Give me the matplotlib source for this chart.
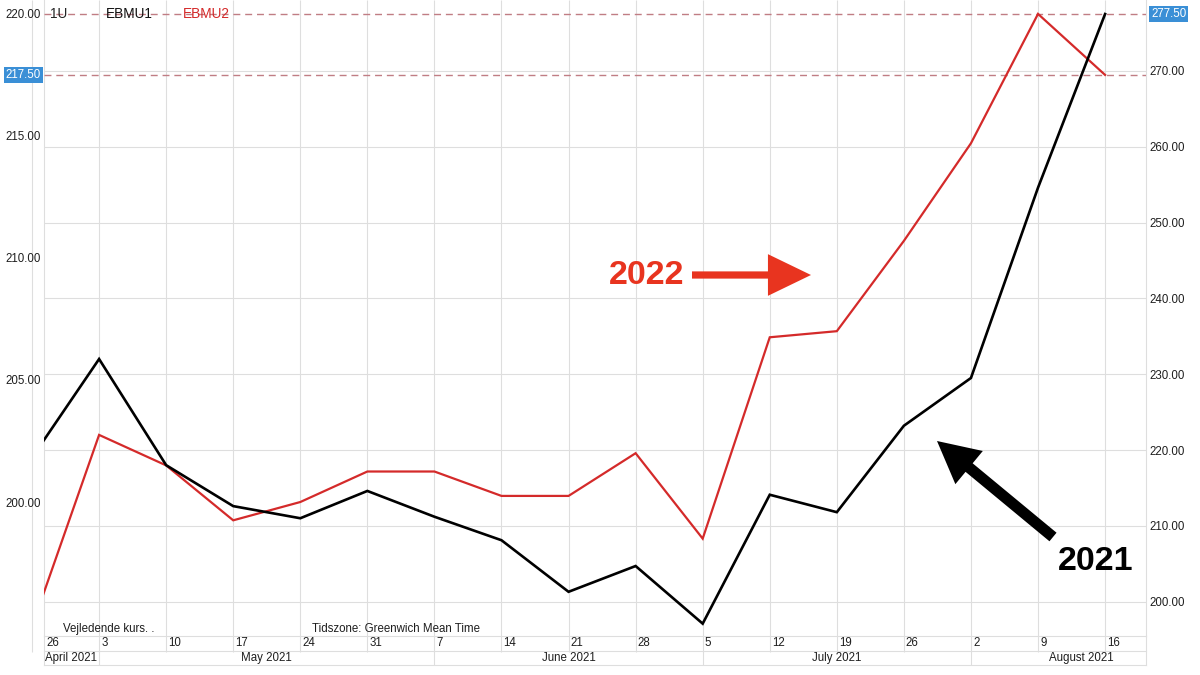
import matplotlib
matplotlib.use('Agg')
import matplotlib.pyplot as plt
import matplotlib.dates as mdates
import matplotlib.transforms as mtrans
import numpy as np
import pandas as pd

plt.rcParams['font.family'] = ['Liberation Sans', 'DejaVu Sans']

# ---------------- data ----------------
week_dates = ['2021-04-26', '2021-05-03', '2021-05-10', '2021-05-17', '2021-05-24',
              '2021-05-31', '2021-06-07', '2021-06-14', '2021-06-21', '2021-06-28',
              '2021-07-05', '2021-07-12', '2021-07-19', '2021-07-26', '2021-08-02',
              '2021-08-09', '2021-08-16']
# EBMU1 (2021, black) on the right axis
ebmu1 = [219.0, 232.0, 218.0, 212.6, 211.0, 214.6, 211.2, 208.1, 201.3, 204.7,
         197.1, 214.1, 211.8, 223.2, 229.5, 254.6, 277.5]
# EBMU2 (2022, red) on the left axis
ebmu2 = [194.9, 202.75, 201.5, 199.25, 200.0, 201.25, 201.25, 200.25, 200.25, 202.0,
         198.5, 206.75, 207.0, 210.7, 214.7, 220.0, 217.5]
left_ticks = [200, 205, 210, 215, 220]
right_ticks = [200, 210, 220, 230, 240, 250, 260, 270]
month_labels = ['April 2021', 'May 2021', 'June 2021', 'July 2021', 'August 2021']
legend_labels = ['1U', 'EBMU1', 'EBMU2']
left_marker = 217.50
right_marker = 277.50
left_dashed = [220.0, 217.5]

# ---------------- style ----------------
W, H = 1200, 675
GRID = '#dedede'
RED = '#d42a2a'
ARROW_RED = '#e8341f'
BLUE = '#3a8fd6'
DASH = '#c07d84'
FS = 8.3

fig = plt.figure(figsize=(W / 100, H / 100), dpi=100)
AX_H = 636
ax = fig.add_axes([44 / W, (H - 636) / H, 1102 / W, AX_H / H])
axr = ax.twinx()

x = mdates.date2num(pd.to_datetime(week_dates).to_pydatetime())
dates = pd.to_datetime(week_dates)
xlim = (x[0] + 1.25, x[-1] + 4.27)

# lines (both drawn in axr so the stacking order can be controlled)
axr.plot(x, ebmu2, color=RED, lw=1.6, zorder=3, transform=ax.transData,
         solid_joinstyle='miter')
axr.plot(x, ebmu1, color='black', lw=1.9, zorder=4, solid_joinstyle='miter')

ax.set_xlim(*xlim)
axr.set_xlim(*xlim)
ax.set_ylim(194.51, 220.57)
axr.set_ylim(195.47, 279.35)

# grid
bx = mtrans.blended_transform_factory(ax.transData, ax.transAxes)
ax.vlines(x, -16 / AX_H, 1, transform=bx, color=GRID, lw=0.8, zorder=0, clip_on=False)
by = mtrans.blended_transform_factory(axr.transAxes, axr.transData)
axr.hlines(right_ticks, 0, 1, transform=by, color=GRID, lw=0.8, zorder=0)

# dashed level lines (left-axis values)
byl = mtrans.blended_transform_factory(ax.transAxes, ax.transData)
for v in left_dashed:
    axr.plot([0, 1], [v, v], transform=byl, color=DASH, lw=1.0, ls=(0, (5, 3.5)),
             zorder=1)

# spines
for a in (ax, axr):
    for s in a.spines.values():
        s.set_visible(False)
for s in ('left', 'right', 'bottom'):
    ax.spines[s].set_visible(True)
    ax.spines[s].set_color(GRID)
    ax.spines[s].set_linewidth(0.8)

ax.set_xticks([])
axr.set_xticks([])

ax.set_yticks(left_ticks)
ax.set_yticklabels([f'{v:.2f}' for v in left_ticks])
ax.tick_params(axis='y', length=0, pad=2.2, labelsize=FS, colors='#1e1e1e')
axr.set_yticks(right_ticks)
axr.set_yticklabels([f'{v:.2f}' for v in right_ticks])
axr.tick_params(axis='y', length=0, pad=2.5, labelsize=FS, colors='#1e1e1e')

# highlighted value labels
ax.annotate(f'{left_marker:.2f}', xy=(0, left_marker), xycoords=byl,
            xytext=(-3, 0), textcoords='offset pixels', ha='right', va='center',
            fontsize=FS, color='white',
            bbox=dict(boxstyle='square,pad=0.18', fc=BLUE, ec='none'))
axr.annotate(f'{right_marker:.2f}', xy=(1, right_marker), xycoords=by,
             xytext=(5, 0), textcoords='offset pixels', ha='left', va='center',
             fontsize=FS, color='white',
             bbox=dict(boxstyle='square,pad=0.18', fc=BLUE, ec='none'))

# legend-like header texts
leg_pos = [0.0054, 0.0563, 0.126]
leg_col = ['#222222', '#111111', RED]
for lbl, px, c in zip(legend_labels, leg_pos, leg_col):
    axr.text(px, 1 - 14 / AX_H, lbl, transform=ax.transAxes, ha='left', va='center',
             fontsize=9.8, color=c, zorder=5)

# notes at bottom of plot area
ax.text(19 / 1102, 7 / AX_H, 'Vejledende kurs. .', transform=ax.transAxes,
        ha='left', va='center', fontsize=FS, color='#1e1e1e')
ax.text((312 - 44) / 1102, 7 / AX_H, 'Tidszone: Greenwich Mean Time',
        transform=ax.transAxes, ha='left', va='center', fontsize=FS, color='#1e1e1e')

# ---------------- bottom date axis ----------------
r1 = -15 / AX_H
r2 = -29 / AX_H
for yy in (r1, r2):
    ax.plot([0, 1], [yy, yy], transform=ax.transAxes, color=GRID, lw=0.8, clip_on=False)
ax.plot([0, 0], [0, r2], transform=ax.transAxes, color=GRID, lw=0.8, clip_on=False)
ax.plot([1, 1], [0, r2], transform=ax.transAxes, color=GRID, lw=0.8, clip_on=False)

for i, d in enumerate(dates):
    xp = max(x[i], xlim[0])
    ax.annotate(str(d.day), xy=(xp, 0), xycoords=bx, xytext=(2, -7.5),
                textcoords='offset pixels', ha='left', va='center', fontsize=FS,
                color='#1e1e1e', annotation_clip=False)

month_starts = [i for i in range(1, len(dates)) if dates[i].month != dates[i - 1].month]
ax.vlines([x[i] for i in month_starts], r2, r1, transform=bx, color=GRID, lw=0.8,
          clip_on=False)
ymid = -22 / AX_H
ax.annotate(month_labels[0], xy=(xlim[0], ymid), xycoords=bx, xytext=(1, 0),
            textcoords='offset pixels', ha='left', va='center', fontsize=FS,
            color='#1e1e1e', annotation_clip=False)
for k in range(len(month_starts)):
    a = x[month_starts[k]]
    b = x[month_starts[k + 1]] if k + 1 < len(month_starts) else x[month_starts[k]] + 23
    ax.text((a + b) / 2, ymid, month_labels[k + 1], transform=bx, ha='center',
            va='center', fontsize=FS, color='#1e1e1e', clip_on=False)

# ---------------- annotations ----------------
fig.text(684 / W, (H - 275) / H, '2022', ha='right', va='center', fontsize=24.5,
         fontweight='bold', color=ARROW_RED)
axr.annotate('', xy=(811, H - 275), xycoords='figure pixels',
             xytext=(692, H - 275), textcoords='figure pixels', zorder=10,
             arrowprops=dict(arrowstyle='simple,head_length=3.1,head_width=3.0,tail_width=0.52',
                             mutation_scale=10, fc=ARROW_RED, ec='none',
                             shrinkA=0, shrinkB=0))
fig.text(1058 / W, (H - 561) / H, '2021', ha='left', va='center', fontsize=24.5,
         fontweight='bold', color='black')
axr.annotate('', xy=(937, H - 441), xycoords='figure pixels',
             xytext=(1053, H - 537), textcoords='figure pixels', zorder=10,
             arrowprops=dict(arrowstyle='simple,head_length=3.0,head_width=3.1,tail_width=0.8',
                             mutation_scale=10, fc='black', ec='none',
                             shrinkA=0, shrinkB=0))

fig.savefig('out.png', dpi=100, facecolor='white')
